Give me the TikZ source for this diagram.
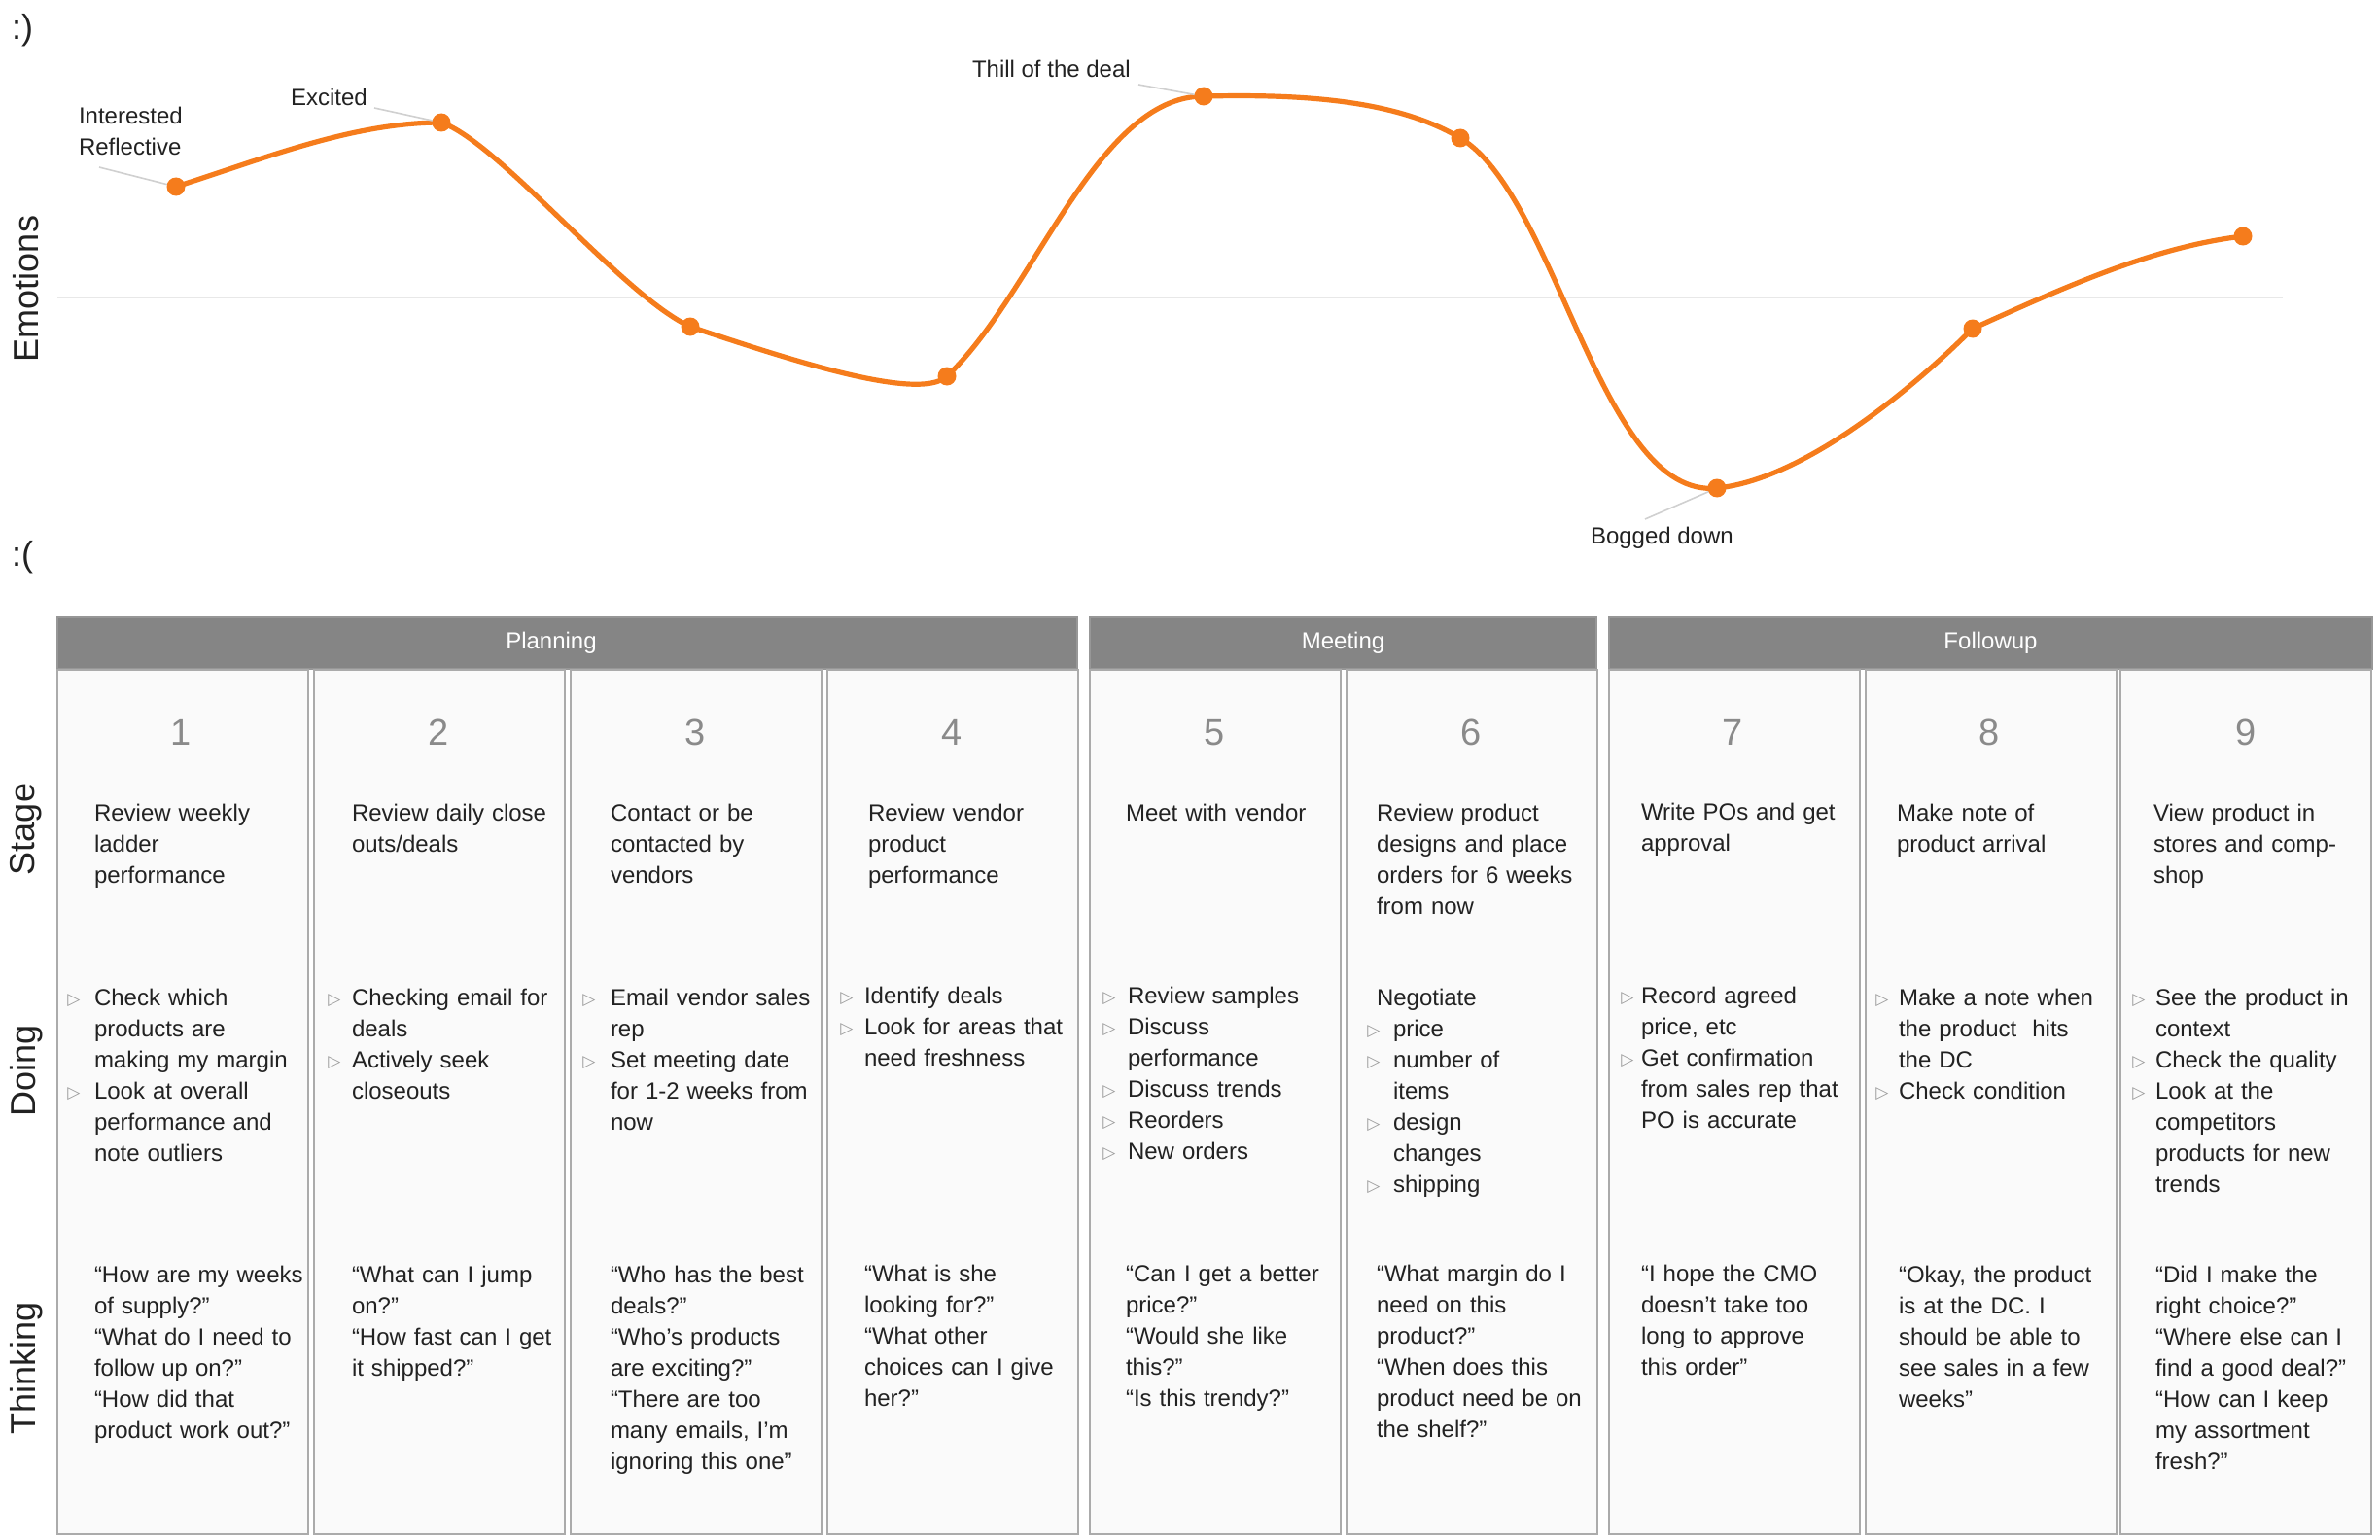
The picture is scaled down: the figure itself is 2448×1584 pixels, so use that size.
\documentclass[tikz,border=0pt]{standalone}
\usepackage{fontspec}
\setmainfont{Liberation Sans}
\newfontfamily\symfont{DejaVu Sans}
\definecolor{emoorange}{RGB}{245,124,28}
\definecolor{hdrgray}{HTML}{858585}
\definecolor{boxgray}{HTML}{ABABAB}
\definecolor{boxfill}{HTML}{FAFAFA}
\definecolor{numgray}{HTML}{8A8A8A}
\definecolor{bulgray}{HTML}{9C9C9C}
\definecolor{leadgray}{HTML}{D0D0D0}
\definecolor{axisgray}{HTML}{E8E8E8}
\definecolor{txtblack}{HTML}{222222}
\setlength{\parskip}{0pt}
\newcommand{\bw}{20pt}
\newcommand{\bmark}{\noindent\llap{\makebox[\bw][c]{\raisebox{0.2pt}{\color{bulgray}\symfont\fontsize{8.5}{8.5}\selectfont ▷}}}}
\newcommand{\bu}{\par\bmark}
\begin{document}
\begin{tikzpicture}[x=0.5pt,y=-0.5pt,
  every node/.style={inner sep=0pt, outer sep=0pt},
  body/.style={anchor=base west, align=left, text width=150pt, font=\fontsize{12}{16}\selectfont, text=txtblack},
  lab/.style={anchor=base west, align=left, font=\fontsize{12}{16}\selectfont, text=txtblack},
  colbox/.style={draw=boxgray, line width=0.8pt, fill=boxfill, minimum width=129pt, minimum height=444.5pt, anchor=north west},
  hdr/.style={fill=hdrgray, draw=hdrgray!85!white, line width=0.8pt, anchor=north west, minimum height=26.5pt},
  hdrtxt/.style={text=white, font=\fontsize{12}{14}\selectfont},
  num/.style={anchor=base, font=\fontsize{19}{19}\selectfont, text=numgray},
  rowlab/.style={rotate=90, font=\fontsize{18}{18}\selectfont, text=txtblack},
  face/.style={font=\fontsize{18}{18}\selectfont, text=txtblack},
  dot/.style={circle, fill=emoorange, minimum size=9.5pt},
  emo/.style={draw=emoorange, line width=2.6pt, line cap=round},
  leader/.style={draw=leadgray, line width=0.8pt},
]
\useasboundingbox (0,0) rectangle (2448,1584);

% ---------- emotions chart ----------
\node[face] (happy) at (23,31) {:)};
\node[face] (sad) at (23,573) {:(};
\node[rowlab] (emotions) at (27,297) {Emotions};
\coordinate (axl) at (59,306);
\coordinate (axr) at (2348,306);
\draw[draw=axisgray, line width=1pt] (axl) -- (axr);

\coordinate (p1) at (181,192);
\coordinate (p2) at (454,126);
\coordinate (p3) at (710,336);
\coordinate (p4) at (974,387);
\coordinate (p5) at (1238,99);
\coordinate (p6) at (1502,142);
\coordinate (p7) at (1766,502);
\coordinate (p8) at (2029,338);
\coordinate (p9) at (2307,243);
\draw[emo] (p1) .. controls (272,163) and (363,126) .. (p2)
  .. controls (514,147) and (640,304) .. (p3)
  .. controls (798,365) and (944,415) .. (p4)
  .. controls (1064,302) and (1128,99) .. (p5)
  .. controls (1326,97) and (1432,100) .. (p6)
  .. controls (1602,202) and (1646,514) .. (p7)
  .. controls (1856,493) and (1969,398) .. (p8)
  .. controls (2122,296) and (2214,254) .. (p9);
\foreach \i in {1,...,9} { \node[dot] (d\i) at (p\i) {}; }

\node[lab] (linterest) at (81,160) {Interested\\Reflective};
\node[lab] (lexcited) at (299,109) {Excited};
\node[lab] (lthrill) at (1000,80) {Thill of the deal};
\node[lab] (lbogged) at (1636,559) {Bogged down};
\coordinate (e1) at (102,172);
\coordinate (e2) at (385,111);
\coordinate (e5) at (1171,87);
\coordinate (e7) at (1692,534);
\draw[leader] (e1) -- (d1);
\draw[leader] (e2) -- (d2);
\draw[leader] (e5) -- (d5);
\draw[leader] (e7) -- (d7);

% ---------- headers ----------
\node[hdr, minimum width=524.5pt] (planning) at (59,635) {};
\node[hdr, minimum width=260.5pt] (meeting) at (1121,635) {};
\node[hdr, minimum width=392.5pt] (followup) at (1655,635) {};
\node[hdrtxt] (tplanning) at (567,661) {Planning};
\node[hdrtxt] (tmeeting) at (meeting.center) {Meeting};
\node[hdrtxt] (tfollowup) at (followup.center) {Followup};

% ---------- columns ----------
\node[colbox] (c1) at (59,689) {};
\node[colbox] (c2) at (323,689) {};
\node[colbox] (c3) at (587,689) {};
\node[colbox] (c4) at (851,689) {};
\node[colbox] (c5) at (1121,689) {};
\node[colbox] (c6) at (1385,689) {};
\node[colbox] (c7) at (1655,689) {};
\node[colbox] (c8) at (1919,689) {};
\node[colbox] (c9) at (2181,689) {};

\node[num] (n1) at (186,766) {1};
\node[num] (n2) at (451,766) {2};
\node[num] (n3) at (715,766) {3};
\node[num] (n4) at (979,766) {4};
\node[num] (n5) at (1249,766) {5};
\node[num] (n6) at (1513,766) {6};
\node[num] (n7) at (1782,766) {7};
\node[num] (n8) at (2046,766) {8};
\node[num] (n9) at (2310,766) {9};

\node[rowlab] (rstage) at (27,853) {Stage};
\node[rowlab] (rdoing) at (27,1101) {Doing};
\node[rowlab] (rthink) at (27,1407) {Thinking};

% stage texts
\node[body] (s1) at (97,844) {Review weekly\\ladder\\performance};
\node[body] (s2) at (362,844) {Review daily close\\outs/deals};
\node[body] (s3) at (628,844) {Contact or be\\contacted by\\vendors};
\node[body] (s4) at (893,844) {Review vendor\\product\\performance};
\node[body] (s5) at (1158,844) {Meet with vendor};
\node[body] (s6) at (1416,844) {Review product\\designs and place\\orders for 6 weeks\\from now};
\node[body] (s7) at (1688,843) {Write POs and get\\approval};
\node[body] (s8) at (1951,844) {Make note of\\product arrival};
\node[body] (s9) at (2215,844) {View product in\\stores and comp-\\shop};

% doing texts
\node[body] (g1) at (97,1034) {\renewcommand{\bw}{21pt}\bmark Check which\\products are\\making my margin\bu Look at overall\\performance and\\note outliers};
\node[body] (g2) at (362,1034) {\renewcommand{\bw}{18pt}\bmark Checking email for\\deals\bu Actively seek\\closeouts};
\node[body] (g3) at (628,1034) {\renewcommand{\bw}{22pt}\bmark Email vendor sales\\rep\bu Set meeting date\\for 1-2 weeks from\\now};
\node[body] (g4) at (889,1032) {\renewcommand{\bw}{18pt}\bmark Identify deals\bu Look for areas that\\need freshness};
\node[body] (g5) at (1160,1032) {\renewcommand{\bw}{19pt}\bmark Review samples\bu Discuss\\performance\bu Discuss trends\bu Reorders\bu New orders};
\node[body] (g6) at (1433,1034) {\renewcommand{\bw}{20pt}\hspace*{-8.5pt}Negotiate\bu price\bu number of\\items\bu design\\changes\bu shipping};
\node[body] (g7) at (1688,1032) {\renewcommand{\bw}{14pt}\bmark Record agreed\\price, etc\bu Get confirmation\\from sales rep that\\PO is accurate};
\node[body] (g8) at (1953,1034) {\renewcommand{\bw}{17pt}\bmark Make a note when\\the product\ \ hits\\the DC\bu Check condition};
\node[body] (g9) at (2217,1034) {\renewcommand{\bw}{17pt}\bmark See the product in\\context\bu Check the quality\bu Look at the\\competitors\\products for new\\trends};

% thinking texts
\node[body] (t1) at (97,1319) {“How are my weeks\\of supply?”\\“What do I need to\\follow up on?”\\“How did that\\product work out?”};
\node[body] (t2) at (362,1319) {“What can I jump\\on?”\\“How fast can I get\\it shipped?”};
\node[body] (t3) at (628,1319) {“Who has the best\\deals?”\\“Who’s products\\are exciting?”\\“There are too\\many emails, I’m\\ignoring this one”};
\node[body] (t4) at (889,1318) {“What is she\\looking for?”\\“What other\\choices can I give\\her?”};
\node[body] (t5) at (1158,1318) {“Can I get a better\\price?”\\“Would she like\\this?”\\“Is this trendy?”};
\node[body] (t6) at (1416,1318) {“What margin do I\\need on this\\product?”\\“When does this\\product need be on\\the shelf?”};
\node[body] (t7) at (1688,1318) {“I hope the CMO\\doesn’t take too\\long to approve\\this order”};
\node[body] (t8) at (1953,1319) {“Okay, the product\\is at the DC. I\\should be able to\\see sales in a few\\weeks”};
\node[body] (t9) at (2217,1319) {“Did I make the\\right choice?”\\“Where else can I\\find a good deal?”\\“How can I keep\\my assortment\\fresh?”};
\end{tikzpicture}
\end{document}
